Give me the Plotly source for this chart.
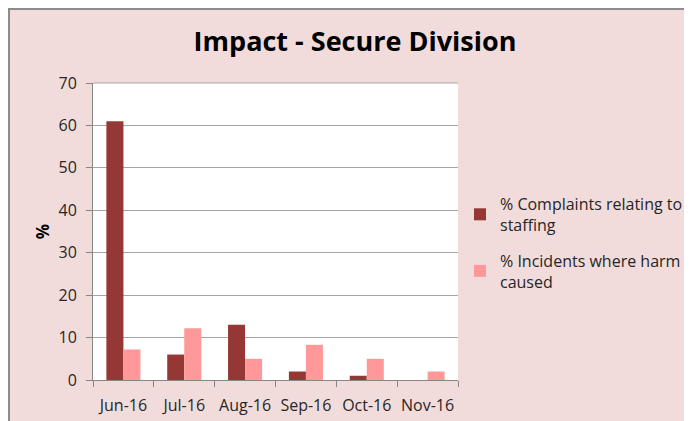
import plotly.graph_objects as go

# Datos del gráfico
months = ["Jun-16", "Jul-16", "Aug-16", "Sep-16", "Oct-16", "Nov-16"]
complaints_staffing = [61, 6, 13, 2, 1, 0]
incidents_harm = [7.2, 12.2, 5, 8.3, 5, 2]
y_ticks = [0, 10, 20, 30, 40, 50, 60, 70]

COLOR_DARK = "#953735"
COLOR_LIGHT = "#FF9999"
COLOR_BG = "#F2DCDB"
COLOR_TEXT = "#262626"
FONT_FAMILY = "Open Sans, Liberation Sans, sans-serif"

# la página añade 8 px de margen; la figura ocupa el resto de la ventana
W, H = 684, 413
L, R, T, B = 85, 234, 75, 41
pw, ph = W - L - R, H - T - B

fig = go.Figure()

fig.add_trace(
    go.Bar(
        name="% Complaints relating to<br>staffing",
        x=months,
        y=complaints_staffing,
        legendgroup="staffing",
        marker=dict(color=COLOR_DARK, line=dict(width=0)),
    )
)
fig.add_trace(
    go.Bar(
        name="% Incidents where harm<br>caused",
        x=months,
        y=incidents_harm,
        legendgroup="harm",
        marker=dict(color=COLOR_LIGHT, line=dict(width=0)),
    )
)

# marco gris (borde izquierdo y superior)
fig.add_shape(type="line", xref="paper", yref="paper",
              x0=-(L - 1) / pw, x1=-(L - 1) / pw, y0=-B / ph, y1=(H - B) / ph,
              line=dict(color="#8C8C8C", width=2))
fig.add_shape(type="line", xref="paper", yref="paper",
              x0=-L / pw, x1=(W - L) / pw, y0=(H - B - 1) / ph, y1=(H - B - 1) / ph,
              line=dict(color="#8C8C8C", width=2))
# línea superior del área de trazado
fig.add_shape(type="line", xref="paper", yref="paper",
              x0=0, x1=1, y0=1, y1=1,
              line=dict(color="#A6A6A6", width=1))

fig.update_layout(
    width=W,
    height=H,
    barmode="group",
    bargap=0.44,
    bargroupgap=0,
    title=dict(
        text="<b>Impact - Secure Division</b>",
        font=dict(size=27, family=FONT_FAMILY, color="#000000"),
        x=347 / W,
        xanchor="center",
        y=1 - 34 / H,
        yanchor="middle",
    ),
    margin=dict(l=L, r=R, t=T, b=B, pad=0, autoexpand=False),
    paper_bgcolor=COLOR_BG,
    plot_bgcolor="#FFFFFF",
    font=dict(family=FONT_FAMILY, color=COLOR_TEXT, size=15),
    legend=dict(
        x=(452 - L) / pw,
        xanchor="left",
        y=(372 - 179) / ph,
        yanchor="top",
        font=dict(size=16, color=COLOR_TEXT),
        bgcolor="rgba(0,0,0,0)",
        tracegroupgap=12,
        itemwidth=30,
    ),
    showlegend=True,
)

fig.update_xaxes(
    type="category",
    automargin=False,
    tickangle=0,
    showline=True,
    linecolor="#868686",
    linewidth=1,
    ticks="outside",
    tickson="boundaries",
    ticklen=6,
    tickcolor="#868686",
    showgrid=False,
    ticklabelstandoff=11,
    tickfont=dict(size=16, color=COLOR_TEXT),
)

fig.update_yaxes(
    range=[0, 70],
    automargin=False,
    tickvals=y_ticks,
    showline=True,
    linecolor="#868686",
    linewidth=1,
    ticks="outside",
    ticklen=6,
    tickcolor="#868686",
    showgrid=True,
    gridcolor="#A6A6A6",
    gridwidth=1,
    zeroline=False,
    ticklabelstandoff=6,
    tickfont=dict(size=16, color=COLOR_TEXT),
    title=dict(text="<b>%</b>", font=dict(size=17, color="#000000"), standoff=4),
)

fig.write_html("out.html")
